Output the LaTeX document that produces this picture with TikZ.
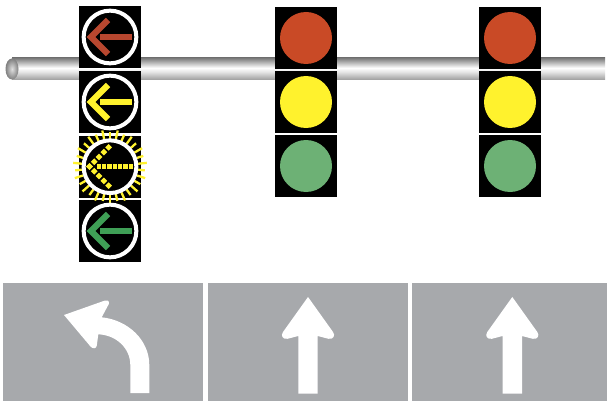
\documentclass[tikz,border=0pt]{standalone}
\usetikzlibrary{calc}
\definecolor{sred}{HTML}{C94A26}
\definecolor{syel}{HTML}{FFF22D}
\definecolor{sgrn}{HTML}{6DB175}
\definecolor{ared}{HTML}{B8472F}
\definecolor{agrn}{HTML}{3F9F56}
\definecolor{pave}{HTML}{A7A9AC}
\definecolor{poletop}{HTML}{7A7A7A}
\definecolor{polebot}{HTML}{A0A0A0}
\definecolor{polemid}{HTML}{E6E6E6}
\pgfdeclareverticalshading{poleshade}{100bp}{
  color(0bp)=(polebot);
  color(25bp)=(polebot);
  color(43bp)=(polemid);
  color(52bp)=(white);
  color(75bp)=(poletop);
  color(100bp)=(poletop)}
\tikzset{
  housing/.style={fill=black,draw=none,minimum width=62pt,minimum height=62pt,inner sep=0pt,outer sep=0pt},
  ring/.style={draw=white,line width=4pt,fill=black,circle,minimum size=52.7pt,inner sep=0pt},
  lamp/.style={circle,draw=none,minimum size=52pt,inner sep=0pt},
  arrowline/.style={line width=6.3pt,miter limit=10},
  panel/.style={fill=pave,draw=none},
  pavearrow/.style={fill=white,draw=none}
}
\newcommand{\leftarrowsig}[3]{% x,y centre, colour
  \draw[arrowline,#3] (#1+22,#2) -- (#1-10,#2);
  \draw[arrowline,#3] (#1-2,#2-17) -- (#1-19,#2) -- (#1-2,#2+17);
}
\begin{document}
\begin{tikzpicture}[x=1pt,y=-1pt]
\useasboundingbox (0,0) rectangle (607,401);
% pole
\shade[shading=poleshade] (12,58) rectangle (605,79.5);
\shade[inner color=white!75!gray,outer color=gray] (12,69) ellipse [x radius=6.5,y radius=10.5];
% left signal
\node[housing] (h1) at (110,37) {};
\node[housing] (h2) at (110,102) {};
\node[housing] (h3) at (110,167) {};
\node[housing] (h4) at (110,231) {};
\node[ring] (r1) at (h1) {};
\node[ring] (r2) at (h2) {};
\foreach \a [count=\k] in {90,102,...,449} {
  \pgfmathsetmacro{\rr}{isodd(\k)?37:35}
  \draw[syel,line width=2.3pt] ($(110,166.7)+(\a:28)$) -- ($(110,166.7)+(\a:\rr)$);
}
\node[ring] (r3) at (110,166.7) {};
\node[ring] (r4) at (h4) {};
\leftarrowsig{110}{37}{ared}
\leftarrowsig{110}{102}{syel}
\leftarrowsig{110}{231}{agrn}
\draw[syel,line width=5pt,dash pattern=on 4.2pt off 1.13pt] (133,166.5) -- (96,166.5);
\foreach \i in {0,1,2,3,4}{
  \fill[syel,shift={(89.4+\i*4.8,166.5-\i*4.8)},rotate=45] (-2.4,-2.4) rectangle (2.4,2.4);
  \fill[syel,shift={(89.4+\i*4.8,166.5+\i*4.8)},rotate=45] (-2.4,-2.4) rectangle (2.4,2.4);
}
% centre and right signals
\foreach \x/\n in {306/a,510/b}{
  \node[housing] (\n1) at (\x,38) {};
  \node[housing] (\n2) at (\x,102) {};
  \node[housing] (\n3) at (\x,166) {};
  \node[lamp,fill=sred] (\n r) at (\n1) {};
  \node[lamp,fill=syel] (\n y) at (\n2) {};
  \node[lamp,fill=sgrn] (\n g) at (\n3) {};
}
% pavement
\fill[panel] (3,283) rectangle (203,401);
\fill[panel] (208,283) rectangle (408,401);
\fill[panel] (412,283) rectangle (607,401);
\fill[pavearrow] (149.3,393) -- (149.3,365) .. controls (149.3,340) and (128,320) .. (101.7,317.3)
  -- (108.8,304) .. controls (109.5,301) and (107.5,299.5) .. (105,300.5) -- (64,315)
  -- (90.5,346.5) .. controls (92.5,349) and (96.5,349) .. (96.8,345.5) -- (98.3,334.3)
  .. controls (116,335) and (130.3,348) .. (130.3,365) -- (130.3,393) -- cycle;
\foreach \c in {308,512.3}{
  \fill[pavearrow] (\c-9.7,393.7) -- (\c-9.7,336) -- (\c-20.5,338.8)
    .. controls (\c-25.5,339.5) and (\c-27.5,335.5) .. (\c-25,332) -- (\c,297)
    -- (\c+25,332) .. controls (\c+27.5,335.5) and (\c+25.5,339.5) .. (\c+20.5,338.8)
    -- (\c+9.7,336) -- (\c+9.7,393.7) -- cycle;
}
\end{tikzpicture}
\end{document}
